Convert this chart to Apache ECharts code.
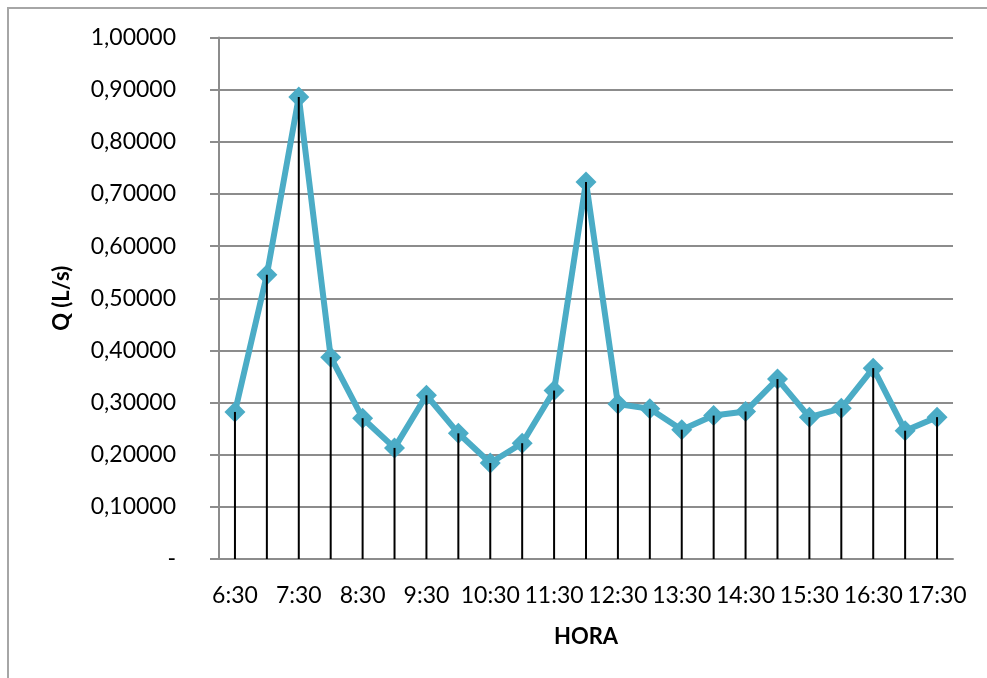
<!DOCTYPE html>
<html>
<head>
<meta charset="utf-8">
<script src="https://cdn.jsdelivr.net/npm/echarts@6/dist/echarts.min.js"></script>
<style>
  html, body { margin: 0; padding: 0; background: #fff; }
  #chart { width: 987px; height: 678px; }
</style>
</head>
<body>
<div id="chart"></div>
<script>
// Half-hourly readings, 6:30 to 17:30
const horas = ['6:30','7:00','7:30','8:00','8:30','9:00','9:30','10:00','10:30','11:00','11:30','12:00',
  '12:30','13:00','13:30','14:00','14:30','15:00','15:30','16:00','16:30','17:00','17:30'];
// Flow Q in L/s
const caudal = [0.282, 0.545, 0.886, 0.387, 0.270, 0.213, 0.314, 0.241, 0.184, 0.222, 0.323, 0.723,
  0.297, 0.288, 0.248, 0.275, 0.283, 0.345, 0.272, 0.289, 0.366, 0.246, 0.272];
const yTicks = { min: 0, max: 1, step: 0.1 };

const chart = echarts.init(document.getElementById('chart'));
const baseFont = 'Lato, "Open Sans", sans-serif';

chart.setOption({
  backgroundColor: '#ffffff',
  animation: false,
  graphic: [{
    type: 'polyline',
    shape: { points: [[8, 700], [8, 8], [1000, 8]] },
    style: { stroke: '#a6a6a6', lineWidth: 2, fill: null },
    silent: true
  }],
  grid: { left: 219, right: 34, top: 37.5, bottom: 119, containLabel: false },
  xAxis: {
    type: 'category',
    data: horas,
    boundaryGap: true,
    name: 'HORA',
    nameLocation: 'middle',
    nameGap: 67,
    nameTextStyle: { fontFamily: baseFont, fontSize: 22, fontWeight: 'bold', color: '#000' },
    axisLine: { show: true, lineStyle: { color: '#8c8c8c', width: 2 } },
    axisTick: { show: false },
    axisLabel: {
      interval: 1,
      margin: 25,
      fontFamily: baseFont,
      fontSize: 23,
      color: '#000'
    },
    splitLine: { show: false }
  },
  yAxis: {
    type: 'value',
    min: yTicks.min,
    max: yTicks.max,
    interval: yTicks.step,
    name: 'Q (L/s)',
    nameLocation: 'middle',
    nameRotate: 90,
    nameGap: 146,
    nameTextStyle: { fontFamily: baseFont, fontSize: 22, fontWeight: 'bold', color: '#000' },
    axisLine: { show: true, lineStyle: { color: '#8c8c8c', width: 2 } },
    axisTick: { show: true, length: 9, lineStyle: { color: '#8c8c8c', width: 2 } },
    axisLabel: {
      margin: 43,
      fontFamily: baseFont,
      fontSize: 23,
      color: '#000',
      formatter: v => (v === 0 ? '-' : v.toFixed(5).replace('.', ','))
    },
    splitLine: { show: true, lineStyle: { color: '#8c8c8c', width: 2 } }
  },
  series: [
    {
      type: 'line',
      data: caudal,
      symbol: 'diamond',
      symbolSize: 21,
      showAllSymbol: true,
      lineStyle: { color: '#4bacc6', width: 6 },
      itemStyle: { color: '#4bacc6' },
      z: 3
    },
    {
      // drop lines from each reading down to the axis, drawn over the markers
      type: 'bar',
      data: caudal,
      barWidth: 2,
      itemStyle: { color: '#000' },
      silent: true,
      z: 4
    }
  ]
});
</script>
</body>
</html>
